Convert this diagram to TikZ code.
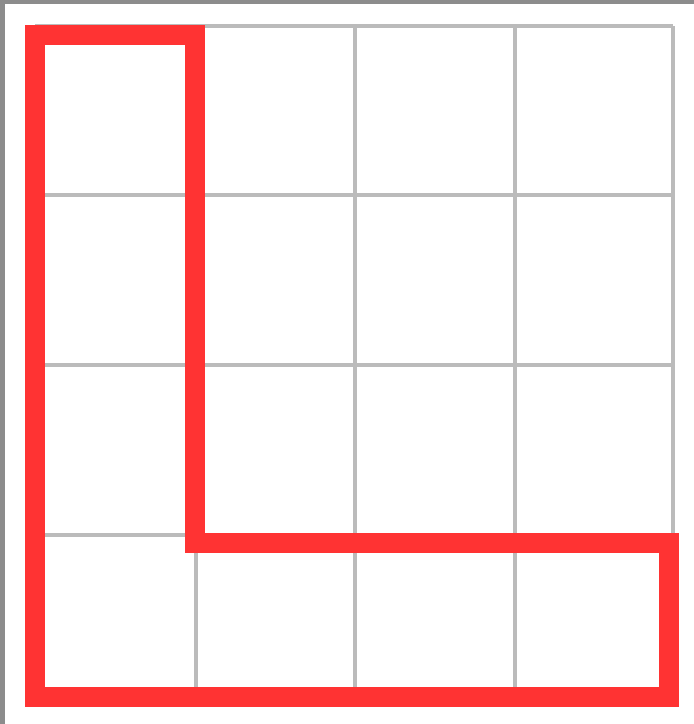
\documentclass[tikz,border=0pt]{standalone}
\usepackage{tikz}
\usepackage{xcolor}
\definecolor{gridgray}{RGB}{187,187,187}
\definecolor{lred}{RGB}{255,51,51}
\definecolor{framegray}{RGB}{140,140,140}
\tikzset{
  gridline/.style={
    draw=gridgray,
    line width=3.5pt
  },
  lshape/.style={
    draw=lred,
    line width=20pt,
    line join=miter
  },
  framestrip/.style={
    fill=framegray
  }
}
\begin{document}
\begin{tikzpicture}[x=1pt,y=-1pt]
    \useasboundingbox (0,0) rectangle (694,724);
    \fill[white] (0,0) rectangle (694,724);
    % grey frame edges
    \fill[framestrip] (0,0) rectangle (694,4);
    \fill[framestrip] (0,0) rectangle (5,724);

    % grid
    \foreach \gx in {35,196,355,515,673}
      \draw[gridline] (\gx,26) -- (\gx,700);
    \foreach \gy in {26,195,365,535,700}
      \draw[gridline] (35,\gy) -- (673,\gy);

    % the L outline
    \coordinate (topleft) at (35,35);
    \coordinate (topright) at (195,35);
    \coordinate (inner) at (195,543);
    \coordinate (armtop) at (669,543);
    \coordinate (armbottom) at (669,697);
    \coordinate (bottomleft) at (35,697);
    \draw[lshape] (topleft) -- (topright) -- (inner) -- (armtop)
      -- (armbottom) -- (bottomleft) -- cycle;
  \end{tikzpicture}
\end{document}
